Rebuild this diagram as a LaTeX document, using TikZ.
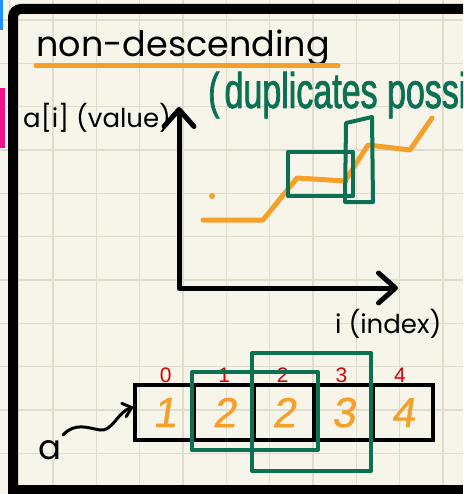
\documentclass[tikz,border=0pt]{standalone}
\usepackage{fontspec}
\setmainfont{Poppins}
\newfontfamily\handfont[FakeStretch=0.68,FakeBold=1.5]{Liberation Sans}
\newfontfamily\digitfont[FakeSlant=0.15,FakeBold=1]{Liberation Sans}
\newfontfamily\idxfont{Liberation Sans}
\usetikzlibrary{arrows.meta}
\definecolor{paper}{HTML}{F7F5EA}
\definecolor{gridc}{HTML}{DFDCCF}
\definecolor{ora}{HTML}{F4A02A}
\definecolor{grn}{HTML}{0B7152}
\definecolor{redc}{HTML}{D60000}
\definecolor{bluemark}{HTML}{1E90FF}
\definecolor{pinkmark}{HTML}{F0148C}
\tikzset{
  gridline/.style={gridc, line width=1.5},
  frameline/.style={black, line width=10},
  axisline/.style={black, line width=5, line cap=round, line join=round},
  oraline/.style={ora, line width=5, line cap=round, line join=round},
  grnbox/.style={grn, line width=4, line join=round},
  cell/.style={draw=black, line width=4, minimum width=59.6, minimum height=55, inner sep=0pt, text=ora, font=\digitfont\fontsize{42}{42}\selectfont},
  idx/.style={text=redc, font=\idxfont\fontsize{21}{21}\selectfont, inner sep=0pt},
  lbl/.style={font=\fontsize{26}{28}\selectfont, inner sep=0pt}
}
\begin{document}
\begin{tikzpicture}[x=1pt,y=-1pt]
\useasboundingbox (0,0) rectangle (463,494);
\fill[paper] (0,0) rectangle (463,494);
\begin{scope}
\clip (0,0) rectangle (463,494);
\foreach \i in {0,...,10} \draw[gridline] ({9.7+43.33*\i},0) -- ++(0,494);
\foreach \j in {0,...,11} \draw[gridline] (0,{20+43.33*\j}) -- ++(463,0);
\fill[bluemark] (0,0) rectangle (3,30);
\fill[pinkmark] (0,88) rectangle (5,148);
% frame
\draw[frameline, rounded corners=8] (13,494) -- (13,9) -- (463,9);
\draw[black, line width=9] (8,489) -- (463,489);
% title
\node[anchor=base west, inner sep=0pt, font=\fontsize{35}{38}\selectfont] (title) at (36,57) {non-descending};
\draw[oraline] (36,66) -- (338,66);
% green handwriting
\node[anchor=base west, inner sep=0pt, text=grn, font=\handfont\fontsize{50}{50}\selectfont] (dup) at (208,108) {(\hspace{5pt}duplicates possible};
% axes
\coordinate (Y) at (179,107);
\coordinate (O) at (179,288);
\coordinate (X) at (398,288);
\draw[axisline, {Straight Barb[length=17pt,width=30pt,round]}-{Straight Barb[length=17pt,width=30pt,round]}] (Y) -- (O) -- (X);
\node[lbl, anchor=base west] (ylab) at (23,128) {a[i] (value)};
\node[lbl, anchor=base west] (xlab) at (335,333) {i (index)};
% orange graph
\fill[ora] (212,196) circle (3);
\draw[oraline] (203,220) -- (263,220) -- (297,178) -- (345,181) -- (368,145) -- (410,150) -- (432,118);
% green boxes on graph
\draw[grnbox] (288,152) rectangle (353,196);
\draw[grnbox] (346,123) -- (372,117) -- (373,202) -- (345,202) -- cycle;
% array
\foreach \v [count=\k from 0] in {1,2,2,3,4} {
  \node[cell] (c\k) at ({164.6+59.6*\k},412.5) {\v};
  \node[idx] (i\k) at ({165.6+58.6*\k},375) {\k};
}
\draw[grnbox] (192,372) rectangle (318,450);
\draw[grnbox] (252,353) rectangle (371,471);
% pointer a
\node[font=\fontsize{34}{34}\selectfont, inner sep=0pt] (alab) at (50,450) {a};
\coordinate (astart) at (63,435);
\coordinate (atip) at (133,407);
\draw[black, line width=3, line cap=round, -{Straight Barb[length=8pt,width=14pt,round]}] (astart) .. controls (75,422) and (88,428) .. (100,430) .. controls (112,432) and (118,412) .. (atip);
\end{scope}
\end{tikzpicture}
\end{document}
